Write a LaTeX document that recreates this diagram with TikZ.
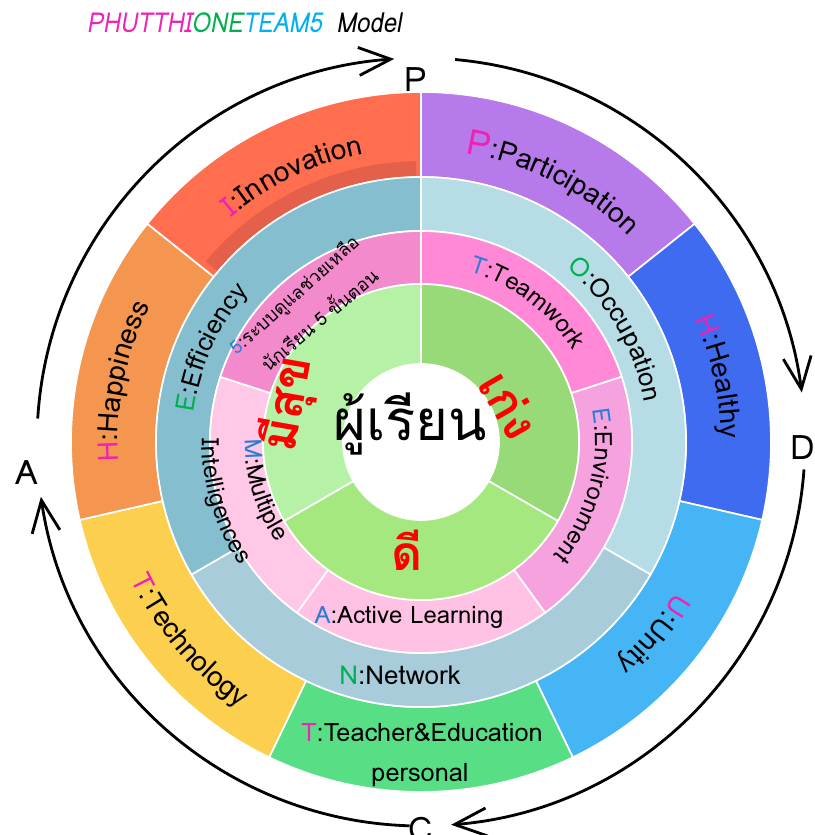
\documentclass[tikz,border=0pt]{standalone}
\usepackage{fontspec}
\setmainfont{Loma}
\newfontfamily\thaifont[Script=Thai]{Loma}
\newfontfamily\slantfont[FakeSlant=0.2]{Loma}
\usetikzlibrary{decorations.text}
\usetikzlibrary{arrows.meta}

% ring colours
\definecolor{cInno}{HTML}{FF6F4F}
\definecolor{cInnoDark}{HTML}{E4604A}
\definecolor{cHapp}{HTML}{F4964F}
\definecolor{cTech}{HTML}{FDCF4F}
\definecolor{cTeac}{HTML}{58DF86}
\definecolor{cUnit}{HTML}{46B5F5}
\definecolor{cHeal}{HTML}{3F6BF0}
\definecolor{cPart}{HTML}{B77AEB}
\definecolor{cEffi}{HTML}{84BECF}
\definecolor{cOccu}{HTML}{B6DCE5}
\definecolor{cNetw}{HTML}{A8CCDA}
\definecolor{cTeam}{HTML}{FF88D7}
\definecolor{cEnvi}{HTML}{F6A2DF}
\definecolor{cActi}{HTML}{FFC2E4}
\definecolor{cMult}{HTML}{FFC8E7}
\definecolor{cFive}{HTML}{F28ACC}
\definecolor{cSuk}{HTML}{B6F2A6}
\definecolor{cKeng}{HTML}{98DA78}
\definecolor{cDee}{HTML}{A5E87F}
% key letter colours
\definecolor{keyMag}{HTML}{EE22B4}
\definecolor{keyGrn}{HTML}{00B050}
\definecolor{keyBlu}{HTML}{2A7DD4}
\definecolor{keyCya}{HTML}{00B0F0}

\newcommand\outerfont{\fontsize{20}{24}\selectfont}
\newcommand\bigkeyfont{\fontsize{25}{28}\selectfont}
\newcommand\midfont{\fontsize{18.5}{22}\selectfont}
\newcommand\pinkfont{\fontsize{17}{20}\selectfont}

\begin{document}
\begin{tikzpicture}[x=0.025cm,y=0.025cm,
  sector/.style={draw=white,line width=1.2pt},
  cycle arrow/.style={line width=2pt,-{Straight Barb[length=0.8cm,width=0.7cm]}},
  pdca/.style={font=\fontsize{24}{28}\selectfont},
  redword/.style={text=red,font=\thaifont\bfseries\fontsize{34}{40}\selectfont}]

\fill[white] (-421,-393) rectangle (394,442);
\useasboundingbox (-421,-393) rectangle (394,442);

% title
\node[anchor=base west,font=\slantfont\fontsize{17}{20}\selectfont,yscale=1.15] (title) at (-339,409)
  {\textcolor{keyMag}{PHUTTHI}\textcolor{keyGrn}{ONE}\textcolor{keyCya}{TEAM5}\hspace{0.6em}Model};

% outer ring : PHUTTHI
\foreach \a/\col in {90/cPart,38.57/cHeal,-12.86/cUnit,-64.29/cTeac,-115.71/cTech,-167.14/cHapp,-218.57/cInno}
  \filldraw[sector,fill=\col] (\a:265) arc[start angle=\a,end angle=\a-51.43,radius=265]
    -- ({\a-51.43}:350) arc[start angle=\a-51.43,end angle=\a,radius=350] -- cycle;
\fill[cInnoDark] (91:266) arc[start angle=91,end angle=140,radius=266]
  -- (140:281) arc[start angle=140,end angle=91,radius=281] -- cycle;

% blue ring : ONE
\foreach \a/\col in {90/cOccu,-30/cNetw,-150/cEffi}
  \filldraw[sector,fill=\col] (\a:211) arc[start angle=\a,end angle=\a-120,radius=211]
    -- ({\a-120}:265) arc[start angle=\a-120,end angle=\a,radius=265] -- cycle;

% pink ring : TEAM5
\foreach \a/\col in {90/cTeam,18/cEnvi,-54/cActi,-126/cMult,-198/cFive}
  \filldraw[sector,fill=\col] (\a:158) arc[start angle=\a,end angle=\a-72,radius=158]
    -- ({\a-72}:211) arc[start angle=\a-72,end angle=\a,radius=211] -- cycle;

% green ring
\foreach \a/\col in {90/cKeng,-30/cDee,-150/cSuk}
  \filldraw[sector,fill=\col] (\a:78) arc[start angle=\a,end angle=\a-120,radius=78]
    -- ({\a-120}:158) arc[start angle=\a-120,end angle=\a,radius=158] -- cycle;
\filldraw[fill=white,draw=white] (0,0) circle (78);

% outer ring texts
\path[decorate,decoration={text along path,text align=center,
  text={|\outerfont\color{keyMag}|I|\outerfont|:Innovation}}]
  (155.7:294) arc[start angle=155.7,end angle=75.7,radius=294];
\path[decorate,decoration={text along path,text align=center,
  text={|\bigkeyfont\color{keyMag}|P|\outerfont|:Participation}}]
  (103:292) arc[start angle=103,end angle=23,radius=292];
\path[decorate,decoration={text along path,text align=center,
  text={|\outerfont\color{keyMag}|H|\outerfont|:Healthy}}]
  (52.4:300) arc[start angle=52.4,end angle=-27.6,radius=300];
\path[decorate,decoration={text along path,text align=center,
  text={|\outerfont\color{keyMag}|U|\outerfont|:Unity}}]
  (0.5:295) arc[start angle=0.5,end angle=-79.5,radius=295];
\path[decorate,decoration={text along path,text align=center,
  text={|\outerfont\color{keyMag}|H|\outerfont|:Happiness}}]
  (208.5:303) arc[start angle=208.5,end angle=128.5,radius=303];
\path[decorate,decoration={text along path,text align=center,
  text={|\outerfont\color{keyMag}|T|\outerfont|:Technology}}]
  (180.5:321) arc[start angle=180.5,end angle=260.5,radius=321];
\node[font=\fontsize{18}{21}\selectfont] (teacher) at (1,-291) {\textcolor{keyMag}{T}:Teacher\&Education};
\node[font=\fontsize{18}{21}\selectfont] (personal) at (-1,-333) {personal};

% blue ring texts
\path[decorate,decoration={text along path,text align=center,
  text={|\midfont\color{keyGrn}|E|\midfont|:Efficiency}}]
  (195.8:229) arc[start angle=195.8,end angle=115.8,radius=229];
\path[decorate,decoration={text along path,text align=center,
  text={|\midfont\color{keyGrn}|O|\midfont|:Occupation}}]
  (70:227) arc[start angle=70,end angle=-10,radius=227];
\node[font=\midfont] (network) at (-21,-233) {\textcolor{keyGrn}{N}:Network};

% pink ring texts
\path[decorate,decoration={text along path,text align=center,
  text={|\pinkfont\color{keyBlu}|T|\pinkfont|:Teamwork}}]
  (92.5:177) arc[start angle=92.5,end angle=12.5,radius=177];
\path[decorate,decoration={text along path,text align=center,
  text={|\pinkfont\color{keyBlu}|E|\pinkfont|:Environment}}]
  (25:174) arc[start angle=25,end angle=-55,radius=174];
\path[decorate,decoration={text along path,text align=center,
  text={|\pinkfont\color{keyBlu}|M|\pinkfont|:Multiple}}]
  (157:176) arc[start angle=157,end angle=237,radius=176];
\path[decorate,decoration={text along path,text align=center,
  text={|\pinkfont|Intelligences}}]
  (156.7:219) arc[start angle=156.7,end angle=236.7,radius=219];
\node[font=\pinkfont] (active) at (-12,-175) {\textcolor{keyBlu}{A}:Active Learning};
\node[font=\thaifont\fontsize{13}{15}\selectfont,rotate=42] (fiveA) at (-126,146)
  {\textcolor{keyBlu}{5}:ระบบดูแลช่วยเหลือ};
\node[font=\thaifont\fontsize{13}{15}\selectfont,rotate=40] (fiveB) at (-103,124)
  {นักเรียน 5 ขั้นตอน};

% green ring words and centre
\node[redword,font=\thaifont\bfseries\fontsize{35}{40}\selectfont,rotate=80] (happy) at (-132,38) {มีสุข};
\node[redword,rotate=-60] (smart) at (89,37) {เก่ง};
\node[redword,anchor=base] (good) at (-14,-128) {ดี};
\node[font=\thaifont\fontsize{40}{48}\selectfont,anchor=base] (learner) at (-11,2) {ผู้เรียน};

% PDCA cycle
\node[pdca] (P) at (-5,362) {P};
\node[pdca] (D) at (382,-6) {D};
\node[pdca] (C) at (0,-387) {C};
\node[pdca] (A) at (-394,-31) {A};
\coordinate (apStart) at (176.5:384);
\coordinate (pdStart) at (84.9:384);
\coordinate (dcStart) at (-4.1:384);
\coordinate (caStart) at (-91.7:384);
\draw[cycle arrow] (apStart) arc[start angle=176.5,end angle=94,radius=384];
\draw[cycle arrow] (pdStart) arc[start angle=84.9,end angle=7.4,radius=384];
\draw[cycle arrow] (dcStart) arc[start angle=-4.1,end angle=-85.5,radius=384];
\draw[cycle arrow] (caStart) arc[start angle=-91.7,end angle=-171.8,radius=384];

\end{tikzpicture}
\end{document}
